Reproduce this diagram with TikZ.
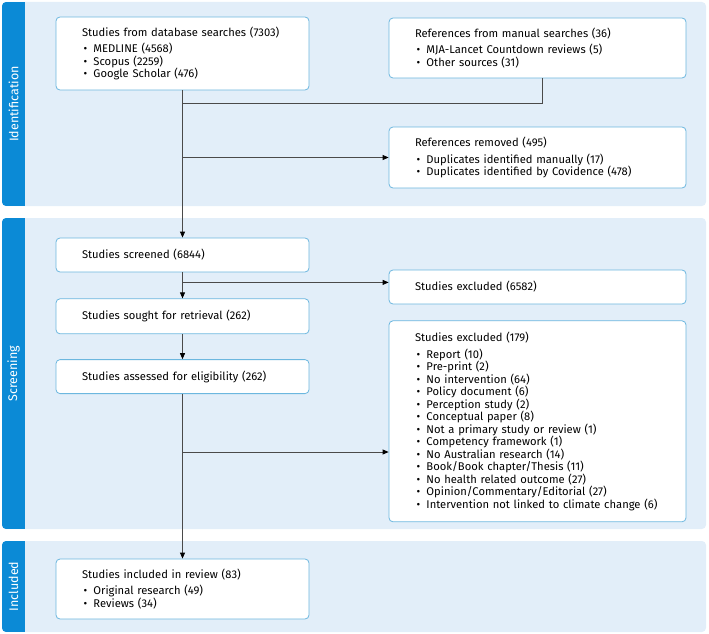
\documentclass[tikz,border=0pt]{standalone}
\usepackage{fontspec}
\setmainfont{Fira Sans}
\usepackage{tikz}
\usetikzlibrary{positioning, arrows.meta}
\definecolor{stripblue}{HTML}{0B8AD6}
\definecolor{panelblue}{HTML}{E2EEF9}
\definecolor{boxline}{HTML}{6CB7DF}
\definecolor{linegray}{HTML}{4A4A4A}
\newcommand{\itm}{\makebox[11.5pt][l]{\hspace{1.5pt}\textbullet}}

\begin{document}
\begin{tikzpicture}[
    x=1pt, y=-1pt,
    box/.style={draw=boxline, fill=white, line width=0.8pt, rounded corners=4pt, inner ysep=2pt, align=left, font=\fontsize{11.2}{12.5}\selectfont},
    lbox/.style={box, inner xsep=26pt, text width=201pt, minimum height=#1},
    rbox/.style={box, inner xsep=26pt, text width=245pt, minimum height=#1},
    panel/.style={fill=panelblue, rounded corners=4pt},
    strip/.style={fill=stripblue},
    stage/.style={rotate=90, text=white, font=\fontsize{12.5}{14}\selectfont},
    link/.style={linegray, line width=0.8pt},
    arr/.style={link, -{Triangle[length=6pt, width=5pt, color=black]}}
]
\useasboundingbox (0,0) rectangle (709,634);

% Stages
\foreach \ya/\yb/\name/\lab in {2/206/idlab/Identification, 218/529/scrlab/Screening, 541/632/inclab/Included} {
    \fill[panel] (2,\ya) rectangle (706,\yb);
    \begin{scope}
        \clip[rounded corners=4pt] (2,\ya) rectangle (706,\yb);
        \fill[strip] (2,\ya) rectangle (25,\yb);
    \end{scope}
    \node[stage] (\name) at (13.5,{(\ya+\yb)/2}) {\lab};
}

% Identification
\node[lbox=73pt] (db) at (182.5,53.5) {Studies from database searches (7303)\\[4pt]
    \itm MEDLINE (4568)\\ \itm Scopus (2259)\\ \itm Google Scholar (476)};
\node[rbox=60pt] (manual) at (537.5,48) {References from manual searches (36)\\[4pt]
    \itm MJA-Lancet Countdown reviews (5)\\ \itm Other sources (31)};
\node[rbox=61pt] (removed) at (537.5,157.5) {References removed (495)\\[4pt]
    \itm Duplicates identified manually (17)\\ \itm Duplicates identified by Covidence (478)};

% Screening
\node[lbox=34pt] (screened) at (182.5,255) {Studies screened (6844)};
\node[lbox=35pt, below=26pt of screened] (sought) {Studies sought for retrieval (262)};
\node[lbox=34pt, below=25pt of sought] (assessed) {Studies assessed for eligibility (262)};
\node[rbox=34pt] (excl1) at (537.5,287) {Studies excluded (6582)};
\node[rbox=201pt, below=16pt of excl1] (excl2) {Studies excluded (179)\\[4pt]
    \itm Report (10)\\ \itm Pre-print (2)\\ \itm No intervention (64)\\
    \itm Policy document (6)\\ \itm Perception study (2)\\ \itm Conceptual paper (8)\\
    \itm Not a primary study or review (1)\\ \itm Competency framework (1)\\
    \itm No Australian research (14)\\ \itm Book/Book chapter/Thesis (11)\\
    \itm No health related outcome (27)\\ \itm Opinion/Commentary/Editorial (27)\\
    \itm Intervention not linked to climate change (6)};

% Included
\node[lbox=60pt] (included) at (182.5,589) {Studies included in review (83)\\[4pt]
    \itm Original research (49)\\ \itm Reviews (34)};

% Connectors
\coordinate (jn) at (182.5,103);
\draw[link] ([xshift=4.5pt]manual.south) |- (jn);
\draw[arr] (db.south) -- (screened.north);
\draw[arr] (db.south |- removed.west) -- (removed.west);
\draw[arr] (screened) -- (sought);
\coordinate (b2) at ([yshift=-10pt]screened.south);
\draw[arr] (b2) -- (b2 -| excl1.west);
\draw[arr] (sought) -- (assessed);
\draw[arr] (assessed) -- (included);
\coordinate (b3) at ([yshift=-58pt]assessed.south);
\draw[arr] (b3) -- (b3 -| excl2.west);

\end{tikzpicture}
\end{document}
